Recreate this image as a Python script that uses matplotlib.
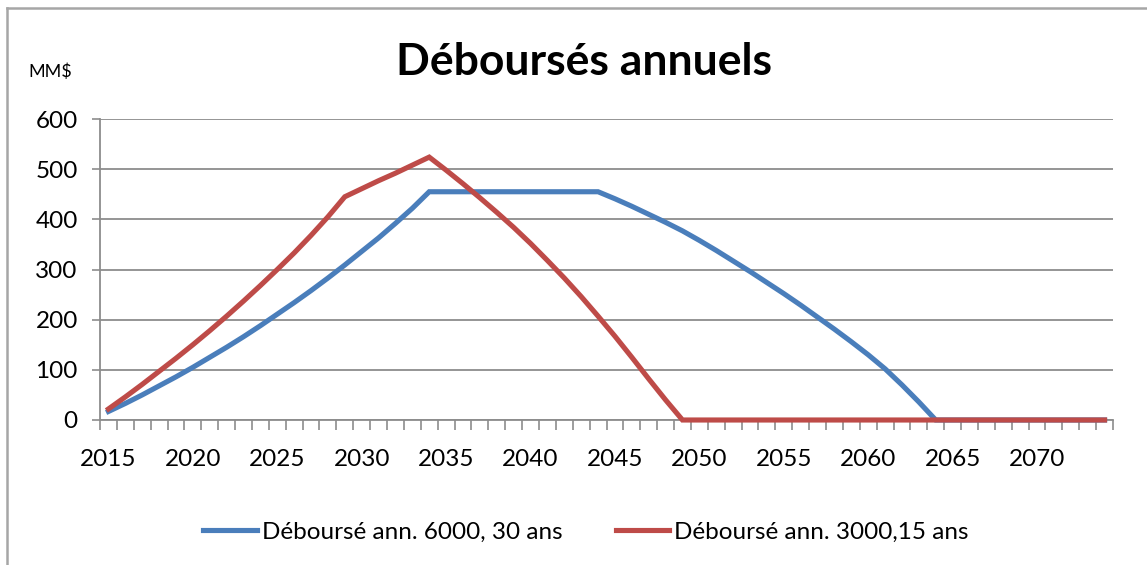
import matplotlib
matplotlib.use('Agg')
from matplotlib import pyplot as plt
from matplotlib.lines import Line2D
import numpy

plt.rcParams['font.family'] = ['Lato', 'DejaVu Sans']

# categories (one per year) and the two series, in MM$
years = list(range(2015, 2075))

blue_30ans = [17, 33, 50, 68, 86, 105, 125, 145, 166, 188,
              211, 234, 258, 283, 309, 336, 363, 392, 422, 455,
              455, 455, 455, 455, 455, 455, 455, 455, 455, 455,
              441, 426, 410, 394, 377, 358, 338, 317, 296, 274,
              252, 229, 205, 181, 156, 130, 102, 70, 36, 0,
              0, 0, 0, 0, 0, 0, 0, 0, 0, 0]

red_15ans = [22, 46, 71, 97, 123, 150, 178, 207, 237, 268,
             300, 333, 368, 405, 445, 461, 477, 492, 508, 524,
             498, 471, 443, 414, 384, 352, 318, 283, 246, 207,
             167, 125, 82, 40, 0, 0, 0, 0, 0, 0,
             0, 0, 0, 0, 0, 0, 0, 0, 0, 0,
             0, 0, 0, 0, 0, 0, 0, 0, 0, 0]

labels = ['Déboursé ann. 6000, 30 ans', 'Déboursé ann. 3000,15 ans']
y_ticks = [0, 100, 200, 300, 400, 500, 600]

W, H = 1147, 565
fig = plt.figure(figsize=(W / 100, H / 100), dpi=100)
ax = fig.add_axes([100 / W, 1 - 420 / H, (1113 - 100) / W, (420 - 119) / H])

grey = '#8c8c8c'
x = numpy.arange(len(years))
ax.plot(x, blue_30ans, color='#4a7ebb', lw=3.7, label=labels[0],
        solid_joinstyle='miter', clip_on=False, zorder=3)
ax.plot(x, red_15ans, color='#be4b48', lw=3.7, label=labels[1],
        solid_joinstyle='miter', clip_on=False, zorder=4)

ax.set_xlim(-0.5, len(years) - 0.5)
ax.set_ylim(0, 600)
ax.set_yticks(y_ticks)
ax.yaxis.grid(True, color=grey, lw=1.3)
ax.set_axisbelow(True)

# ticks between categories, labels every 5 years
ax.set_xticks(numpy.arange(-0.5, len(years), 1.0))
ax.set_xticklabels([])
ax.set_xticks(x[::5], minor=True)
ax.set_xticklabels([str(y) for y in years[::5]], minor=True)
ax.tick_params(axis='x', which='major', direction='out', length=7,
               width=1.2, color=grey)
ax.tick_params(axis='x', which='minor', length=0, pad=21, labelsize=17.5)
ax.tick_params(axis='y', direction='out', length=6, width=1.2,
               color=grey, pad=10, labelsize=17.5)

for s in ['top', 'right']:
    ax.spines[s].set_visible(False)
for s in ['left', 'bottom']:
    ax.spines[s].set_color(grey)
    ax.spines[s].set_linewidth(1.3)

fig.text(584 / W, 1 - 62 / H, 'Déboursés annuels', fontsize=32,
         fontweight='bold', ha='center', va='center')
fig.text(28 / W, 1 - 72 / H, 'MM$', fontsize=13, ha='left', va='center')

fig.legend(loc='center', bbox_to_anchor=(586 / W, 1 - 532 / H), ncol=2,
           frameon=False, fontsize=17.5, handlelength=2.2, handletextpad=0.2,
           columnspacing=2.2)

# chart area border (only the top and left edges are visible)
fig.add_artist(Line2D([7 / W, 1], [1 - 8 / H, 1 - 8 / H], color='#a6a6a6',
                      lw=1.8, transform=fig.transFigure))
fig.add_artist(Line2D([7 / W, 7 / W], [0, 1 - 8 / H], color='#a6a6a6',
                      lw=1.8, transform=fig.transFigure))

fig.savefig('out.png', dpi=100)
